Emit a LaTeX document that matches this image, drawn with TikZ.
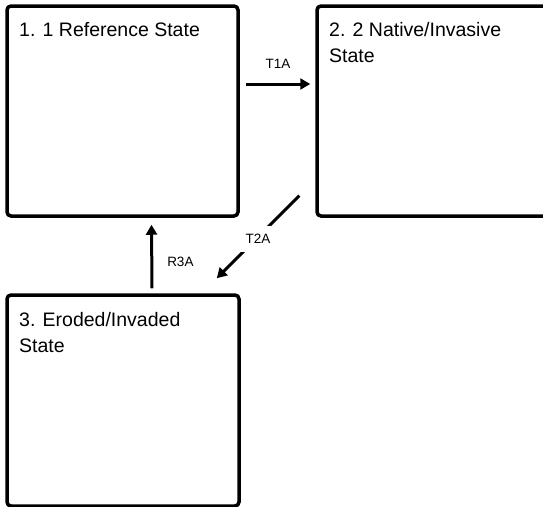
\documentclass[tikz,border=0pt]{standalone}
\usepackage{fontspec}
\setmainfont{Liberation Sans}
\usetikzlibrary{arrows.meta,calc}
\tikzset{
  statebox/.style={draw=black, line width=3.5pt, rounded corners=4pt, minimum width=#1, inner sep=0pt},
  boxtext/.style={anchor=north west, inner sep=0pt, align=left, font=\fontsize{19.5}{26}\selectfont},
  arr/.style={line width=3pt, -{Triangle[length=10pt,width=11pt]}},
  lab/.style={font=\fontsize{13.5}{16}\selectfont, inner sep=0pt}
}
\begin{document}
\begin{tikzpicture}[x=1pt,y=-1pt]
\clip (0,0) rectangle (543,506);
\fill[white] (0,0) rectangle (543,506);
% boxes
\node[statebox=231pt, minimum height=210pt] (b1) at (122.5,111) {};
\node[statebox=243pt, minimum height=210pt] (b2) at (438.5,111) {};
\node[statebox=232pt, minimum height=211pt] (b3) at (123,400.5) {};
% texts
\node[boxtext] (t1) at (19,22.5) {1. 1 Reference State};
\node[boxtext] (t2) at (329,22.5) {2. 2 Native/Invasive\\State};
\node[boxtext] (t3) at (19,312.5) {3. Eroded/Invaded\\State};
% connectors
\draw[arr] ([xshift=6pt,yshift=27pt]b1.east) -- ([xshift=-5pt,yshift=27pt]b2.west)
  node[lab, midway, above=14.5pt] (l1) {T1A};
\draw[arr] ([xshift=-16pt,yshift=22pt]b2.south west) -- ([xshift=-24pt,yshift=15pt]b3.north east)
  node[lab, midway, fill=white, inner sep=8pt, yshift=-2pt] (l2) {T2A};
\draw[arr] ([xshift=29pt,yshift=5pt]b3.north) -- ([xshift=29pt,yshift=-7pt]b1.south)
  node[lab, midway, right=14pt, yshift=-5.5pt] (l3) {R3A};
\end{tikzpicture}
\end{document}
